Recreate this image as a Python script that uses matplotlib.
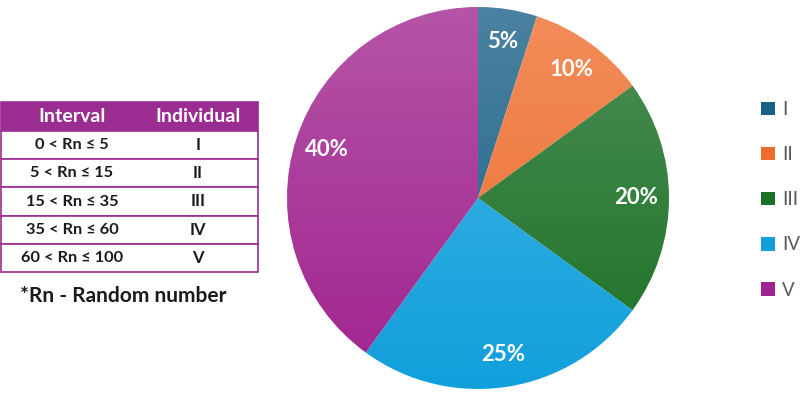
import matplotlib.pyplot as plt
import numpy as np
from matplotlib.patches import Rectangle, Circle

plt.rcParams["font.family"] = ["Lato", "DejaVu Sans"]

individuals = ["I", "II", "III", "IV", "V"]
shares = [5, 10, 20, 25, 40]
intervals = ["0 < Rn ≤ 5", "5 < Rn ≤ 15", "15 < Rn ≤ 35", "35 < Rn ≤ 60", "60 < Rn ≤ 100"]
colors = ["#1a5f86", "#ee6d2d", "#1b7025", "#12a0dc", "#a0248f"]
table_purple = "#9b2c91"

W, H = 800, 404
fig = plt.figure(figsize=(W / 100, H / 100), dpi=100)

# pie, centre (478, 198) px, radius 191 px
cx, cy, r = 478, 198, 191
ax = fig.add_axes([(cx - r) / W, (H - cy - r) / H, 2 * r / W, 2 * r / H])
wedges, _, autotexts = ax.pie(
    shares,
    colors=colors,
    startangle=90,
    counterclock=False,
    autopct="%d%%",
    pctdistance=0.83,
    textprops=dict(color="white", fontsize=16, fontweight="bold"),
)
ax.set_xlim(-1, 1)
ax.set_ylim(-1, 1)
ax.set_aspect("auto")

# soft top-to-bottom sheen like the original
grad = np.linspace(0.22, 0.0, 256).reshape(-1, 1)
sheen = np.zeros((256, 1, 4))
sheen[..., :3] = 1.0
sheen[..., 3] = grad
im = ax.imshow(sheen, extent=(-1, 1, -1, 1), aspect="auto", zorder=2)
im.set_clip_path(Circle((0, 0), 1, transform=ax.transData))
for t in autotexts:
    t.set_zorder(3)

# table overlay in pixel coordinates
ov = fig.add_axes([0, 0, 1, 1])
ov.set_xlim(0, W)
ov.set_ylim(H, 0)
ov.axis("off")

left, right, top = 1, 258, 102
header_h, row_h = 29, 28.2
col1, col2 = 72, 198
ov.add_patch(Rectangle((left, top), right - left, header_h, facecolor=table_purple,
                       edgecolor=table_purple, lw=1.2))
ov.text(col1, top + header_h / 2, "Interval", color="white", fontsize=14,
        fontweight="bold", ha="center", va="center")
ov.text(col2, top + header_h / 2, "Individual", color="white", fontsize=14,
        fontweight="bold", ha="center", va="center")
for i, (iv, ind) in enumerate(zip(intervals, individuals)):
    y0 = top + header_h + i * row_h
    ov.add_patch(Rectangle((left, y0), right - left, row_h, facecolor="white",
                           edgecolor=table_purple, lw=1.2))
    ov.text(col1, y0 + row_h / 2, iv, color="#1a1a1a", fontsize=11.8,
            fontweight="bold", ha="center", va="center")
    ov.text(col2, y0 + row_h / 2, ind, color="#1a1a1a", fontsize=12,
            fontweight="bold", ha="center", va="center")
ov.text(20, 296, "*Rn - Random number", color="#1a1a1a", fontsize=15,
        fontweight="bold", ha="left", va="center")

fig.legend(
    wedges,
    individuals,
    loc="upper left",
    bbox_to_anchor=(761 / W, 1 - 101 / H),
    frameon=False,
    borderpad=0,
    borderaxespad=0,
    fontsize=13.5,
    labelcolor="#595959",
    handlelength=0.72,
    handleheight=0.72,
    handletextpad=0.4,
    labelspacing=1.5,
)

fig.savefig("out.png", dpi=100)
